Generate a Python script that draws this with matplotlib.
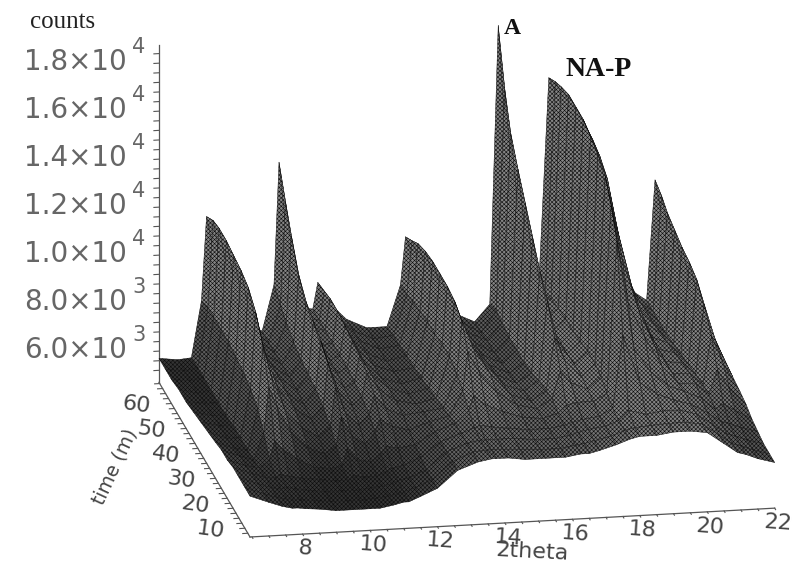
import numpy as np
import matplotlib
matplotlib.use('Agg')
import matplotlib.pyplot as plt
from mpl_toolkits.mplot3d import proj3d

theta = [6.44, 7.0, 7.4, 7.7, 7.85, 8.1, 8.5, 9.0, 9.5, 9.85, 10.0, 10.3, 10.7, 11.0, 11.15, 11.5, 12.0, 12.6, 13.2, 13.6,
         13.75, 14.1, 14.6, 15.2, 15.8, 16.25, 16.5, 16.8, 17.3, 17.7, 18.0, 18.5, 19.0, 19.5, 20.0, 20.5, 20.9, 21.15, 21.5, 22.0]
times = [6.5, 10, 14, 18, 22, 26, 30, 35, 40, 45, 50, 55, 60, 64, 68.5]

# counts in thousands, one list per time
t_06 = [6.4,6.1,5.9,5.8,5.8,5.75,5.7,5.6,5.6,5.6,5.6,5.6,5.7,5.8,5.8,6.0,6.3,7.0,7.3,7.4,7.4,7.4,7.3,7.3,7.3,7.4,7.4,7.5,7.7,7.9,8.0,8.0,8.1,8.1,8.0,7.5,7.1,7.0,6.8,6.6]
t_10 = [6.4,6.1,5.9,5.8,5.8,5.75,5.7,5.6,5.6,5.6,5.6,5.65,5.7,5.8,5.85,6.0,6.3,7.0,7.35,7.4,7.4,7.4,7.35,7.3,7.3,7.4,7.45,7.55,7.7,7.9,8.0,8.05,8.1,8.1,8.0,7.5,7.1,7.0,6.8,6.6]
t_14 = [6.4,6.1,5.9,5.8,5.9,5.8,5.7,5.6,5.6,5.6,5.6,5.65,5.7,5.8,5.9,6.0,6.3,7.0,7.3,7.4,7.4,7.4,7.4,7.3,7.3,7.4,7.5,7.6,7.7,7.9,8.3,8.1,8.2,8.2,8.0,7.5,7.1,7.0,6.8,6.6]
t_18 = [6.4,6.1,5.9,5.9,6.0,5.9,5.8,5.7,5.6,5.6,5.8,5.7,5.7,5.9,6.0,6.1,6.4,7.0,7.3,7.5,7.6,7.5,7.4,7.3,7.3,7.4,7.5,7.6,7.7,8.0,11.0,9.0,8.5,8.2,8.0,7.6,7.2,7.1,6.9,6.7]
t_22 = [6.3,6.0,5.9,6.2,7.0,6.6,6.2,5.8,5.7,5.8,6.5,6.0,5.9,6.2,6.5,6.4,6.5,7.0,7.3,7.8,8.4,8.0,7.7,7.4,7.3,7.5,7.8,7.9,7.9,8.2,14.5,10.0,9.0,8.4,8.1,7.8,7.3,7.5,7.2,6.8]
t_26 = [6.3,6.0,5.8,6.9,8.8,7.9,6.9,6.2,5.9,6.2,7.4,6.6,6.2,6.7,7.2,6.9,6.7,7.0,7.2,8.2,9.8,8.9,8.1,7.5,7.3,7.7,8.8,8.3,8.0,8.5,15.6,11.5,10.0,8.8,8.0,8.0,7.5,8.5,7.7,7.0]
t_30 = [6.2,5.9,5.8,7.5,10.1,8.8,7.4,6.6,6.2,6.6,8.2,7.1,6.6,7.0,7.8,7.2,6.9,7.0,7.1,8.5,10.7,9.5,8.4,7.5,7.2,7.6,9.8,8.8,8.1,8.6,16.4,12.9,10.7,9.1,8.0,8.0,7.5,9.5,8.3,7.1]
t_35 = [6.1,5.8,5.8,7.8,11.0,9.4,7.8,6.9,6.4,6.9,8.7,7.5,6.9,7.2,8.2,7.5,7.0,6.8,7.0,8.7,11.0,9.6,8.4,7.4,7.1,7.5,10.8,9.1,8.1,8.6,16.8,14.0,11.2,9.3,8.0,7.9,7.4,10.3,8.7,7.2]
t_40 = [6.0,5.8,5.8,8.0,11.5,9.8,8.0,7.0,6.5,7.1,9.1,7.8,7.1,7.3,8.4,7.6,7.0,6.7,6.9,8.7,11.1,9.6,8.3,7.3,6.9,7.3,11.5,9.3,8.0,8.5,17.0,15.2,11.6,9.5,8.0,7.8,7.3,10.8,8.9,7.3]
t_45 = [5.9,5.7,5.7,8.1,11.7,9.9,8.1,7.1,6.6,7.2,9.4,7.9,7.2,7.4,8.5,7.6,6.9,6.6,6.8,8.6,11.1,9.5,8.2,7.2,6.8,7.2,12.4,9.6,7.9,8.4,17.2,15.6,12.6,9.8,8.0,7.7,7.2,11.0,8.9,7.3]
t_50 = [5.8,5.7,5.7,8.2,11.8,10.0,8.1,7.1,6.6,7.3,9.7,8.1,7.2,7.4,8.6,7.7,6.9,6.6,6.7,8.6,11.1,9.5,8.2,7.1,6.7,7.2,13.3,10.0,7.9,8.4,17.2,15.8,13.6,10.2,8.1,7.6,7.1,11.1,8.9,7.3]
t_55 = [5.8,5.6,5.7,8.2,11.9,10.1,8.2,7.1,6.6,7.5,10.3,8.4,7.3,7.4,8.7,7.7,6.9,6.5,6.7,8.5,11.0,9.4,8.1,7.1,6.6,7.2,14.2,10.4,8.0,8.3,17.2,15.8,14.0,10.6,8.3,7.5,7.0,11.3,9.0,7.4]
t_60 = [5.7,5.6,5.7,8.2,11.9,10.1,8.2,7.1,6.6,7.8,11.4,8.9,7.5,7.4,8.7,7.7,6.9,6.5,6.6,8.4,10.8,9.3,8.0,7.0,6.6,7.3,15.2,10.9,8.1,8.2,17.0,15.6,14.0,11.0,8.6,7.5,7.0,11.5,9.2,7.4]
t_64 = [5.7,5.6,5.7,8.2,11.8,10.0,8.1,7.0,6.6,8.1,12.4,9.2,7.5,7.4,8.6,7.6,6.9,6.5,6.6,8.3,10.5,9.1,7.9,7.0,6.5,7.4,16.6,11.6,8.3,8.0,16.8,15.4,13.8,11.3,8.9,7.4,7.0,11.8,9.3,7.5]
t_68 = [5.7,5.6,5.65,8.0,11.5,9.8,8.0,7.0,6.6,8.5,13.6,9.5,7.5,7.4,8.5,7.6,6.9,6.5,6.5,8.2,10.2,9.0,7.8,6.9,6.5,7.2,18.8,12.5,8.5,7.8,16.5,15.0,13.5,11.5,9.2,7.4,7.0,12.0,9.5,7.5]

x_ticks = [8, 10, 12, 14, 16, 18, 20, 22]
y_ticks = [10, 20, 30, 40, 50, 60]
z_major = [6000, 8000, 10000, 12000, 14000, 16000, 18000]
z_labels = ['6.0×10', '8.0×10', '1.0×10', '1.2×10', '1.4×10', '1.6×10', '1.8×10']
z_powers = ['3', '3', '4', '4', '4', '4', '4']

Z = np.array([t_06, t_10, t_14, t_18, t_22, t_26, t_30, t_35, t_40, t_45, t_50, t_55, t_60, t_64, t_68]) * 1000
X, Y = np.meshgrid(theta, times)

plt.rcParams['hatch.linewidth'] = 0.4
fig = plt.figure(figsize=(8.05, 5.64), dpi=100)
ax = fig.add_axes([0.1, 0, 564 / 805, 1], projection='3d')
ax.set_proj_type('ortho')
ax.view_init(elev=17.8, azim=-100.2)
ax.set_box_aspect((533, 514, 354), zoom=1)
ax.set_xlim(6.44, 22)
ax.set_ylim(6.5, 68.5)
ax.set_zlim(4700, 18750)

# shade the faces by height, floor nearly black and the peaks mid gray
face = Z[:-1, :-1] + Z[1:, :-1] + Z[:-1, 1:] + Z[1:, 1:]
shade = np.clip(0.2 + 0.32 * (face / 4 - 5600) / 2600, 0.2, 0.52)
colors = plt.cm.gray(shade)
surf = ax.plot_surface(X, Y, Z, facecolors=colors, edgecolor='#0c0c0c', linewidth=0.3, shade=False, rstride=1, cstride=1)
surf.set_hatch('xxxxxxxx')

minor_x = np.arange(6.5, 22.1, 0.5)
minor_y = np.arange(8, 68.1, 2)
minor_z = np.arange(5200, 18700, 400)
ax.set_xticks(minor_x)
ax.set_yticks(minor_y)
ax.set_zticks(minor_z)
ax.set_xticklabels([str(int(v)) if v in x_ticks else '' for v in minor_x], fontsize=16, color='#444444', ha='center', va='center')
ax.set_yticklabels([str(int(v)) if v in y_ticks else '' for v in minor_y], fontsize=16, color='#444444', ha='right', va='bottom')
ax.set_zticklabels([])
ax.grid(False)
for axis in (ax.xaxis, ax.yaxis, ax.zaxis):
    axis.pane.set_visible(False)
    axis.line.set_color('#555555')
    axis.line.set_linewidth(0.9)
    axis.set_tick_params(color='#555555', width=0.6)
    axis._axinfo['tick']['inward_factor'] = 0.12
    axis._axinfo['tick']['outward_factor'] = 0.0
ax.xaxis.set_ticks_position('lower')
ax.yaxis.set_ticks_position('lower')
ax.zaxis.set_ticks_position('upper')
ax.tick_params(axis='x', pad=1, labelrotation=-4)
ax.tick_params(axis='y', pad=3, labelrotation=-8)


def corner(x, y, z):
    px, py, _ = proj3d.proj_transform(x, y, z, ax.get_proj())
    return ax.transData.transform((px, py))


# scale and move the axes so the front edge of the floor sits where it does in the picture
fig.canvas.draw()
a = corner(6.44, 6.5, 4700)
b = corner(22, 6.5, 4700)
size = 564 * 525.5 / np.hypot(*(b - a))
ax.set_position([0, 0, size / 805, size / 564])
fig.canvas.draw()
a = corner(6.44, 6.5, 4700)
ax.set_position([(250 - a[0]) / 805, (564 - 537 - a[1]) / 564, size / 805, size / 564])
fig.canvas.draw()

# z labels by hand, the 3d axis cant hold them level with the ticks
for v, t, p in zip(z_major, z_labels, z_powers):
    pt = corner(6.44, 68.5, v)
    fig.text(127 / 805, (pt[1] + 1) / 564, t, fontsize=20, color='#666666', ha='right', va='center')
    fig.text(139 / 805, (pt[1] + 16) / 564, p, fontsize=15, color='#666666', ha='center', va='center')

fig.text(63 / 805, 1 - 22 / 564, 'counts', family='Liberation Serif', fontsize=18, color='#222222', ha='center', va='center')
fig.text(512 / 805, 1 - 28 / 564, 'A', family='Liberation Serif', weight='bold', fontsize=17, color='#111111', ha='center', va='center')
fig.text(599 / 805, 1 - 69 / 564, 'NA-P', family='Liberation Serif', weight='bold', fontsize=20, color='#111111', ha='center', va='center')
fig.text(532 / 805, 1 - 552 / 564, '2theta', fontsize=16, color='#444444', rotation=-3, ha='center', va='center')
fig.text(115 / 805, 1 - 467 / 564, 'time (m)', fontsize=13.5, color='#444444', rotation=65, ha='center', va='center')

fig.savefig('out.png', dpi=100)
